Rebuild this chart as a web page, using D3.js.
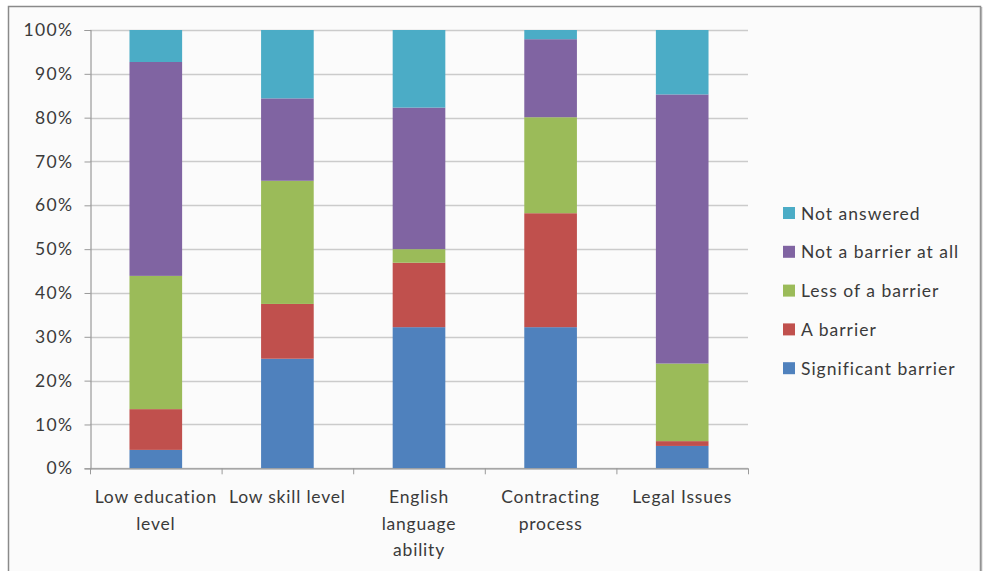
<!DOCTYPE html>
<html>
<head>
<meta charset="utf-8">
<script src="https://cdn.jsdelivr.net/npm/d3@7"></script>
<style>
  html, body { margin: 0; padding: 0; background: #ffffff; }
  svg { display: block; }
  text { font-family: Lato, "Open Sans", sans-serif; fill: #3a3a3a; letter-spacing: 1px; }
</style>
</head>
<body>
<svg id="chart" width="985" height="571"></svg>
<script>
// Barriers survey: share of responses per category (percent)
const categories = [
  ["Low education", "level"],
  ["Low skill level"],
  ["English", "language", "ability"],
  ["Contracting", "process"],
  ["Legal Issues"]
];
const seriesNames = ["Significant barrier", "A barrier", "Less of a barrier", "Not a barrier at all", "Not answered"];
const significant = [4.2, 25.0, 32.2, 32.2, 5.1];
const aBarrier    = [9.3, 12.5, 14.7, 26.0, 1.1];
const lessOf      = [30.4, 28.1, 3.1, 21.9, 17.7];
const notAtAll    = [48.8, 18.8, 32.3, 17.8, 61.4];
const notAnswered = [7.3, 15.6, 17.7, 2.1, 14.7];
const yTicks = [0, 10, 20, 30, 40, 50, 60, 70, 80, 90, 100];
const colors = ["#4F81BD", "#C0504D", "#9BBB59", "#8064A2", "#4BACC6"];

const seriesValues = [significant, aBarrier, lessOf, notAtAll, notAnswered];
const rows = categories.map((c, i) => {
  const r = { key: i };
  seriesNames.forEach((s, j) => { r[s] = seriesValues[j][i]; });
  return r;
});

const svg = d3.select("#chart");

// chart frame
svg.append("rect")
  .attr("x", 8.5).attr("y", 6.5)
  .attr("width", 972).attr("height", 580)
  .attr("fill", "#fbfbfb")
  .attr("stroke", "#8a8a8a").attr("stroke-width", 1.5);
svg.append("line")
  .attr("x1", 981.5).attr("x2", 981.5).attr("y1", 7).attr("y2", 571)
  .attr("stroke", "#b0b0b0").attr("stroke-width", 1.5);

const plot = { left: 90, right: 748, top: 30, bottom: 468.3 };

const x = d3.scaleBand()
  .domain(d3.range(categories.length))
  .range([plot.left, plot.right])
  .paddingInner(0.6).paddingOuter(0.3);

const y = d3.scaleLinear().domain([0, 100]).range([plot.bottom, plot.top]);

// gridlines
svg.append("g")
  .selectAll("line")
  .data(yTicks)
  .join("line")
  .attr("x1", plot.left).attr("x2", plot.right)
  .attr("y1", d => Math.round(y(d)) + 0.5).attr("y2", d => Math.round(y(d)) + 0.5)
  .attr("stroke", "#cbcbcb").attr("stroke-width", 1.6);

// stacked bars
const stack = d3.stack().keys(seriesNames);
const layers = stack(rows);

svg.append("g")
  .selectAll("g")
  .data(layers)
  .join("g")
  .attr("fill", (d, i) => colors[i])
  .selectAll("rect")
  .data(d => d)
  .join("rect")
  .attr("x", (d, i) => x(i))
  .attr("width", x.bandwidth())
  .attr("y", d => y(d[1]))
  .attr("height", d => y(d[0]) - y(d[1]));

// y axis
const yAxis = d3.axisLeft(y)
  .tickValues(yTicks)
  .tickFormat(d => d + "%")
  .tickSize(6)
  .tickPadding(11);

const yg = svg.append("g")
  .attr("transform", `translate(${plot.left + 0.5},0)`)
  .call(yAxis);
yg.select(".domain").attr("stroke", "#9a9a9a").attr("stroke-width", 1.2);
yg.selectAll(".tick line").attr("stroke", "#9a9a9a");
yg.selectAll(".tick text")
  .style("font-family", "Lato, 'Open Sans', sans-serif")
  .style("font-size", "17.5px")
  .style("letter-spacing", "1.4px")
  .attr("fill", "#3a3a3a");

// x axis
const step = (plot.right - plot.left) / categories.length;
const xBoundaries = d3.range(categories.length + 1).map(i => plot.left + i * step);
const xg = svg.append("g");
xg.append("line")
  .attr("x1", plot.left).attr("x2", plot.right)
  .attr("y1", plot.bottom + 0.5).attr("y2", plot.bottom + 0.5)
  .attr("stroke", "#9a9a9a").attr("stroke-width", 1.2);
xg.selectAll("line.tick")
  .data(xBoundaries)
  .join("line")
  .attr("class", "tick")
  .attr("x1", d => d + 0.5).attr("x2", d => d + 0.5)
  .attr("y1", plot.bottom).attr("y2", plot.bottom + 6)
  .attr("stroke", "#9a9a9a");

xg.selectAll("text.cat")
  .data(categories)
  .join("text")
  .attr("class", "cat")
  .attr("text-anchor", "middle")
  .style("font-size", "17.5px")
  .style("letter-spacing", "0.8px")
  .attr("transform", (d, i) => `translate(${x(i) + x.bandwidth() / 2},0)`)
  .selectAll("tspan")
  .data(d => d)
  .join("tspan")
  .attr("x", 0)
  .attr("y", (d, i) => 503 + i * 26.5)
  .text(d => d);

// legend (top entry is the last series)
const legendItems = seriesNames.map((s, i) => ({ name: s, color: colors[i] })).reverse();
const legend = svg.append("g").attr("transform", "translate(783,213)");
const li = legend.selectAll("g")
  .data(legendItems)
  .join("g")
  .attr("transform", (d, i) => `translate(0,${i * 38.8})`);
li.append("rect")
  .attr("x", 0).attr("y", -6)
  .attr("width", 12).attr("height", 12)
  .attr("fill", d => d.color);
li.append("text")
  .attr("x", 18).attr("y", 6.5)
  .style("font-size", "17.5px")
  .text(d => d.name);
</script>
</body>
</html>
